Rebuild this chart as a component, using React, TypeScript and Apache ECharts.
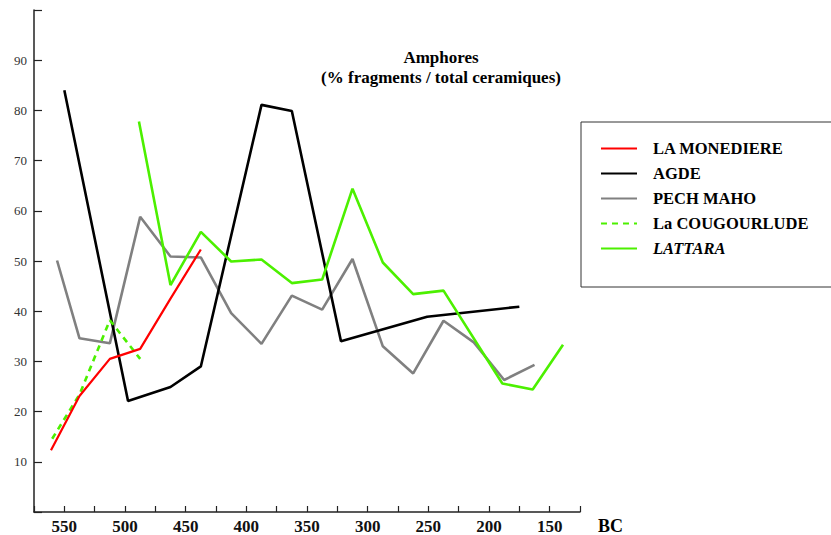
import React, { useEffect, useRef } from "react";
import * as echarts from "echarts";

// ---- Data (years BC, % amphora fragments / total ceramics) ----
const monediere: [number, number][] = [
  [561, 12.3], [537.5, 23.1], [512.5, 30.5], [487.5, 32.5], [462.5, 42.5], [437.5, 52.3],
];
const agde: [number, number][] = [
  [550, 84], [497.5, 22.1], [462.5, 24.9], [437.5, 29.0], [387.5, 81.1], [362.5, 79.9],
  [322, 34.0], [251, 38.9], [175, 40.9],
];
const pechMaho: [number, number][] = [
  [556, 50.1], [537.5, 34.6], [512.5, 33.6], [487.5, 58.8], [462.5, 50.9], [437.5, 50.7],
  [412.5, 39.6], [387.5, 33.5], [362.5, 43.1], [337.5, 40.3], [312.5, 50.4], [287.5, 33.0],
  [262.5, 27.6], [237.5, 38.1], [212.5, 33.8], [187.5, 26.3], [162.5, 29.3],
];
const cougourlude: [number, number][] = [
  [560, 14.6], [537.5, 23.4], [512.5, 38.2], [487.5, 30.5],
];
const lattara: [number, number][] = [
  [488.5, 77.8], [462.5, 45.2], [437.5, 55.8], [412.5, 49.9], [387.5, 50.3], [362.5, 45.6],
  [337.5, 46.3], [312.5, 64.4], [287.5, 49.7], [262.5, 43.4], [237.5, 44.1], [189, 25.6],
  [164, 24.4], [139, 33.3],
];

const xTickLabels = [550, 500, 450, 400, 350, 300, 250, 200, 150];
const yTickLabels = [10, 20, 30, 40, 50, 60, 70, 80, 90];
const seriesNames = ["LA MONEDIERE", "AGDE", "PECH MAHO", "La COUGOURLUDE", "LATTARA"];
const titleLines = ["Amphores", "(% fragments / total ceramiques)"];
const axisUnit = "BC";

const SERIF = "'Liberation Serif', 'Times New Roman', serif";

export default function App() {
  const ref = useRef<HTMLDivElement>(null);

  useEffect(() => {
    if (!ref.current) return;
    const chart = echarts.init(ref.current, undefined, { renderer: "svg" });
    const GREEN = "#4cf000";
    chart.setOption({
      animation: false,
      backgroundColor: "#ffffff",
      title: {
        text: titleLines.join("\n"),
        left: 441,
        top: 47,
        textAlign: "center",
        padding: 0,
        textStyle: {
          fontFamily: SERIF,
          fontWeight: "bold",
          fontSize: 17,
          lineHeight: 20,
          color: "#000",
        },
      },
      grid: { left: 34, right: 251, top: 10, bottom: 20.5, containLabel: false },
      xAxis: {
        type: "value",
        min: 125,
        max: 575,
        interval: 25,
        inverse: true,
        axisLine: { show: true, onZero: false, lineStyle: { color: "#222", width: 1.5 } },
        axisTick: { show: true, inside: true, length: 6, lineStyle: { color: "#222", width: 1.2 } },
        splitLine: { show: false },
        axisLabel: {
          margin: 6,
          fontFamily: SERIF,
          fontWeight: "bold",
          fontSize: 17,
          color: "#111",
          formatter: (v: number) => (xTickLabels.includes(v) ? String(v) : ""),
        },
      },
      yAxis: {
        type: "value",
        min: 0,
        max: 100,
        interval: 10,
        axisLine: { show: true, lineStyle: { color: "#222", width: 1.5 } },
        axisTick: { show: true, inside: true, length: 8, lineStyle: { color: "#222", width: 1.2 } },
        splitLine: { show: false },
        axisLabel: {
          margin: 7,
          fontFamily: SERIF,
          fontSize: 13,
          color: "#333",
          formatter: (v: number) => (yTickLabels.includes(v) ? String(v) : ""),
        },
      },
      legend: {
        orient: "vertical",
        left: 600,
        top: 140,
        padding: 0,
        itemWidth: 36,
        itemHeight: 14,
        itemGap: 8,
        itemStyle: { opacity: 0 },
        textStyle: {
          fontFamily: SERIF,
          fontWeight: "bold",
          fontSize: 16.5,
          color: "#000",
          padding: [0, 0, 0, 11],
        },
        data: seriesNames.map((n) =>
          n === "LATTARA" ? { name: n, textStyle: { fontStyle: "italic" } } : { name: n }
        ),
      },
      graphic: [
        {
          type: "rect",
          shape: { x: 581, y: 122, width: 262, height: 165 },
          style: { fill: "none", stroke: "#333", lineWidth: 1 },
          z: 0,
        },
        {
          type: "text",
          x: 598,
          y: 526,
          style: {
            text: axisUnit,
            font: `bold 18px ${SERIF}`,
            fill: "#000",
            textVerticalAlign: "middle",
          },
        },
      ],
      series: [
        {
          name: seriesNames[0],
          type: "line",
          data: monediere,
          symbol: "none",
          lineStyle: { color: "#ff0000", width: 2.2 },
          itemStyle: { color: "#ff0000" },
          z: 5,
        },
        {
          name: seriesNames[1],
          type: "line",
          data: agde,
          symbol: "none",
          lineStyle: { color: "#000000", width: 2.6 },
          itemStyle: { color: "#000000" },
          z: 3,
        },
        {
          name: seriesNames[2],
          type: "line",
          data: pechMaho,
          symbol: "none",
          lineStyle: { color: "#808080", width: 2.6 },
          itemStyle: { color: "#808080" },
          z: 2,
        },
        {
          name: seriesNames[3],
          type: "line",
          data: cougourlude,
          symbol: "none",
          lineStyle: { color: GREEN, width: 2.6, type: [6, 5] },
          itemStyle: { color: GREEN },
          z: 4,
        },
        {
          name: seriesNames[4],
          type: "line",
          data: lattara,
          symbol: "none",
          lineStyle: { color: GREEN, width: 2.6 },
          itemStyle: { color: GREEN },
          z: 4,
        },
      ],
    });
    return () => chart.dispose();
  }, []);

  return (
    <div
      ref={ref}
      style={{ position: "fixed", left: 0, top: 0, width: 831, height: 535 }}
    />
  );
}
